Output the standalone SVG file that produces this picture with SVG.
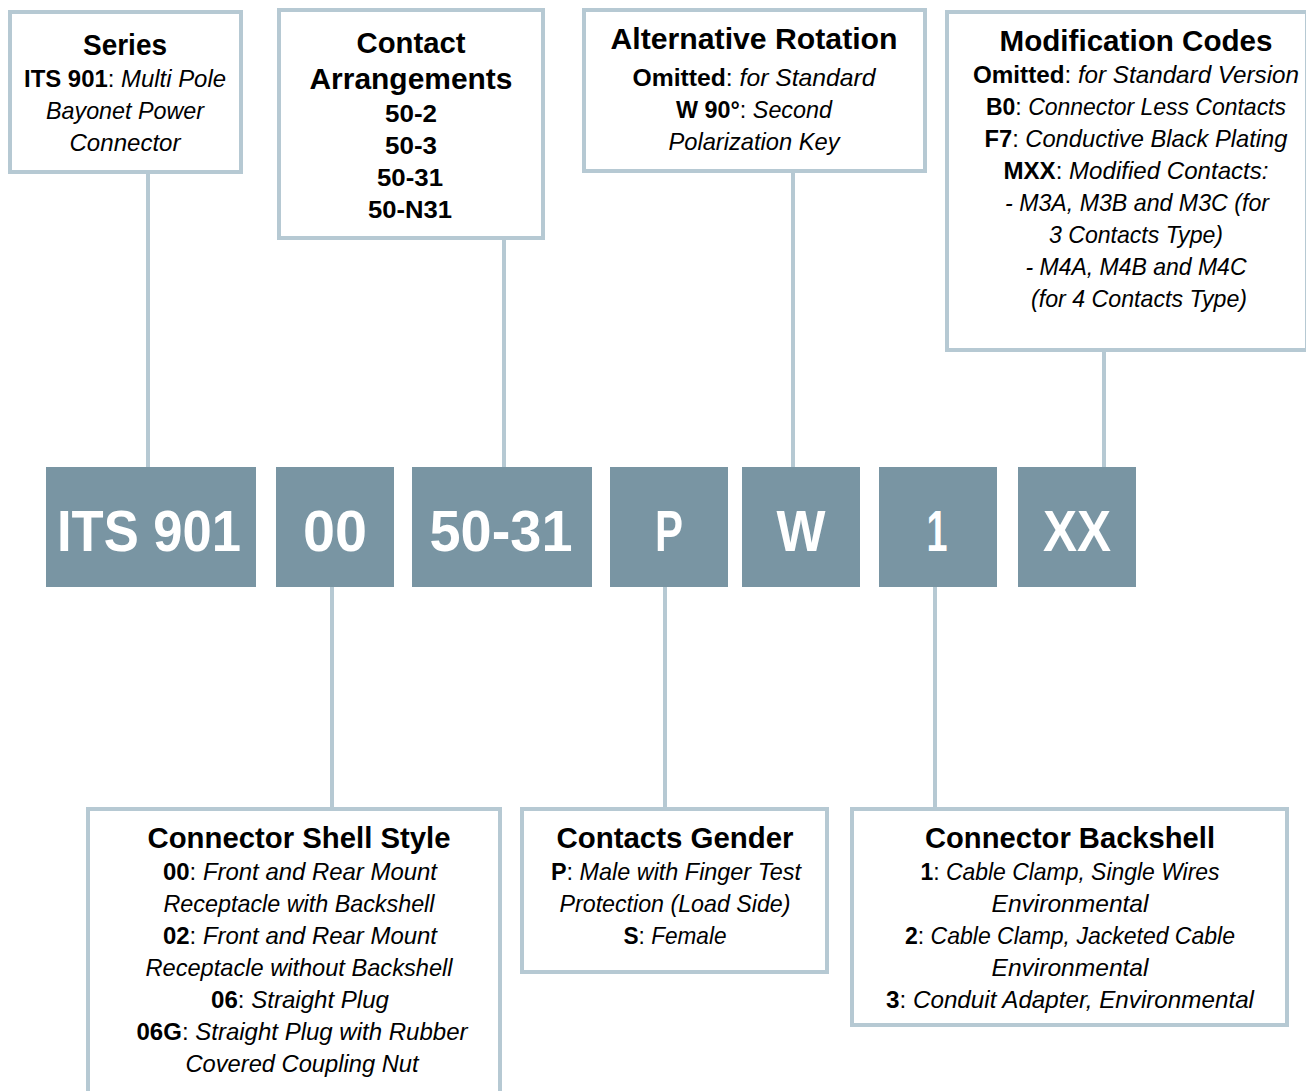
<svg xmlns="http://www.w3.org/2000/svg" width="1306" height="1091" viewBox="0 0 1306 1091">
<style>
.box{fill:#ffffff;stroke:#b6c9d3;stroke-width:4}
.code{fill:#7995a3}
.conn{stroke:#b6c9d3;stroke-width:4;fill:none}
text{font-family:"Liberation Sans",Arial,sans-serif;text-anchor:middle;fill:#000}
.t{font-size:29px;font-weight:bold}
.b{font-size:24px}
.b .k{font-weight:bold;font-style:normal}
.i{font-style:italic}
.c{font-size:57px;font-weight:bold;fill:#ffffff}
</style>
<rect width="1306" height="1091" fill="#ffffff"/>
<g id="connectors">
<line class="conn" x1="148" y1="172" x2="148" y2="467"/>
<line class="conn" x1="504" y1="238" x2="504" y2="467"/>
<line class="conn" x1="793" y1="171" x2="793" y2="467"/>
<line class="conn" x1="1104" y1="350" x2="1104" y2="467"/>
<line class="conn" x1="332" y1="587" x2="332" y2="809"/>
<line class="conn" x1="665" y1="587" x2="665" y2="809"/>
<line class="conn" x1="935" y1="587" x2="935" y2="809"/>
</g>
<g id="series">
<rect class="box" x="10" y="12" width="231" height="160"/>
<text class="t" x="125" y="55" textLength="84" lengthAdjust="spacingAndGlyphs">Series</text>
<text class="b" x="125" y="87" textLength="202" lengthAdjust="spacingAndGlyphs"><tspan class="k">ITS 901</tspan>: <tspan class="i">Multi Pole</tspan></text>
<text class="b i" x="125" y="119" textLength="158" lengthAdjust="spacingAndGlyphs">Bayonet Power</text>
<text class="b i" x="125" y="151" textLength="111" lengthAdjust="spacingAndGlyphs">Connector</text>
</g>
<g id="contact-arrangements">
<rect class="box" x="279" y="10" width="264" height="228"/>
<text class="t" x="411" y="53" textLength="109" lengthAdjust="spacingAndGlyphs">Contact</text>
<text class="t" x="411" y="89" textLength="203" lengthAdjust="spacingAndGlyphs">Arrangements</text>
<text class="b k" x="411" y="122" font-weight="bold" textLength="52" lengthAdjust="spacingAndGlyphs">50-2</text>
<text class="b k" x="411" y="154" font-weight="bold" textLength="52" lengthAdjust="spacingAndGlyphs">50-3</text>
<text class="b k" x="410" y="186" font-weight="bold" textLength="66" lengthAdjust="spacingAndGlyphs">50-31</text>
<text class="b k" x="410" y="218" font-weight="bold" textLength="84" lengthAdjust="spacingAndGlyphs">50-N31</text>
</g>
<g id="alternative-rotation">
<rect class="box" x="584" y="10" width="341" height="161"/>
<text class="t" x="754" y="49" textLength="287" lengthAdjust="spacingAndGlyphs">Alternative Rotation</text>
<text class="b" x="754" y="86" textLength="243" lengthAdjust="spacingAndGlyphs"><tspan class="k">Omitted</tspan>: <tspan class="i">for Standard</tspan></text>
<text class="b" x="754" y="118" textLength="156" lengthAdjust="spacingAndGlyphs"><tspan class="k">W 90°</tspan>: <tspan class="i">Second</tspan></text>
<text class="b i" x="754" y="150" textLength="171" lengthAdjust="spacingAndGlyphs">Polarization Key</text>
</g>
<g id="modification-codes">
<rect class="box" x="947" y="12" width="360" height="338"/>
<text class="t" x="1136" y="51" textLength="273" lengthAdjust="spacingAndGlyphs">Modification Codes</text>
<text class="b" x="1136" y="83" textLength="326" lengthAdjust="spacingAndGlyphs"><tspan class="k">Omitted</tspan>: <tspan class="i">for Standard Version</tspan></text>
<text class="b" x="1136" y="115" textLength="300" lengthAdjust="spacingAndGlyphs"><tspan class="k">B0</tspan>: <tspan class="i">Connector Less Contacts</tspan></text>
<text class="b" x="1136" y="147" textLength="303" lengthAdjust="spacingAndGlyphs"><tspan class="k">F7</tspan>: <tspan class="i">Conductive Black Plating</tspan></text>
<text class="b" x="1136" y="179" textLength="265" lengthAdjust="spacingAndGlyphs"><tspan class="k">MXX</tspan>: <tspan class="i">Modified Contacts:</tspan></text>
<text class="b i" x="1137" y="211" textLength="264" lengthAdjust="spacingAndGlyphs">- M3A, M3B and M3C (for</text>
<text class="b i" x="1136" y="243" textLength="174" lengthAdjust="spacingAndGlyphs">3 Contacts Type)</text>
<text class="b i" x="1136" y="275" textLength="221" lengthAdjust="spacingAndGlyphs">- M4A, M4B and M4C</text>
<text class="b i" x="1139" y="307" textLength="216" lengthAdjust="spacingAndGlyphs">(for 4 Contacts Type)</text>
</g>
<g id="code-its901">
<rect class="code" x="46" y="467" width="210" height="120"/>
<text class="c" x="149" y="551" textLength="184" lengthAdjust="spacingAndGlyphs">ITS 901</text>
</g>
<g id="code-00">
<rect class="code" x="276" y="467" width="118" height="120"/>
<text class="c" x="335" y="551" textLength="64" lengthAdjust="spacingAndGlyphs">00</text>
</g>
<g id="code-50-31">
<rect class="code" x="412" y="467" width="180" height="120"/>
<text class="c" x="501" y="551" textLength="143" lengthAdjust="spacingAndGlyphs">50-31</text>
</g>
<g id="code-p">
<rect class="code" x="610" y="467" width="118" height="120"/>
<text class="c" x="669" y="551" textLength="28" lengthAdjust="spacingAndGlyphs">P</text>
</g>
<g id="code-w">
<rect class="code" x="742" y="467" width="118" height="120"/>
<text class="c" x="801" y="551" textLength="49" lengthAdjust="spacingAndGlyphs">W</text>
</g>
<g id="code-1">
<rect class="code" x="879" y="467" width="118" height="120"/>
<text class="c" x="937" y="551" textLength="21" lengthAdjust="spacingAndGlyphs">1</text>
</g>
<g id="code-xx">
<rect class="code" x="1018" y="467" width="118" height="120"/>
<text class="c" x="1077" y="551" textLength="68" lengthAdjust="spacingAndGlyphs">XX</text>
</g>
<g id="connector-shell-style">
<rect class="box" x="88" y="809" width="412" height="300"/>
<text class="t" x="299" y="848" textLength="303" lengthAdjust="spacingAndGlyphs">Connector Shell Style</text>
<text class="b" x="300" y="880" textLength="274" lengthAdjust="spacingAndGlyphs"><tspan class="k">00</tspan>: <tspan class="i">Front and Rear Mount</tspan></text>
<text class="b i" x="299" y="912" textLength="271" lengthAdjust="spacingAndGlyphs">Receptacle with Backshell</text>
<text class="b" x="300" y="944" textLength="274" lengthAdjust="spacingAndGlyphs"><tspan class="k">02</tspan>: <tspan class="i">Front and Rear Mount</tspan></text>
<text class="b i" x="299" y="976" textLength="307" lengthAdjust="spacingAndGlyphs">Receptacle without Backshell</text>
<text class="b" x="300" y="1008" textLength="178" lengthAdjust="spacingAndGlyphs"><tspan class="k">06</tspan>: <tspan class="i">Straight Plug</tspan></text>
<text class="b" x="302" y="1040" textLength="331" lengthAdjust="spacingAndGlyphs"><tspan class="k">06G</tspan>: <tspan class="i">Straight Plug with Rubber</tspan></text>
<text class="b i" x="302" y="1072" textLength="233" lengthAdjust="spacingAndGlyphs">Covered Coupling Nut</text>
</g>
<g id="contacts-gender">
<rect class="box" x="522" y="809" width="305" height="163"/>
<text class="t" x="675" y="848" textLength="237" lengthAdjust="spacingAndGlyphs">Contacts Gender</text>
<text class="b" x="676" y="880" textLength="250" lengthAdjust="spacingAndGlyphs"><tspan class="k">P</tspan>: <tspan class="i">Male with Finger Test</tspan></text>
<text class="b i" x="675" y="912" textLength="231" lengthAdjust="spacingAndGlyphs">Protection (Load Side)</text>
<text class="b" x="675" y="944" textLength="103" lengthAdjust="spacingAndGlyphs"><tspan class="k">S</tspan>: <tspan class="i">Female</tspan></text>
</g>
<g id="connector-backshell">
<rect class="box" x="852" y="809" width="435" height="216"/>
<text class="t" x="1070" y="848" textLength="290" lengthAdjust="spacingAndGlyphs">Connector Backshell</text>
<text class="b" x="1070" y="880" textLength="299" lengthAdjust="spacingAndGlyphs"><tspan class="k">1</tspan>: <tspan class="i">Cable Clamp, Single Wires</tspan></text>
<text class="b i" x="1070" y="912" textLength="157" lengthAdjust="spacingAndGlyphs">Environmental</text>
<text class="b" x="1070" y="944" textLength="330" lengthAdjust="spacingAndGlyphs"><tspan class="k">2</tspan>: <tspan class="i">Cable Clamp, Jacketed Cable</tspan></text>
<text class="b i" x="1070" y="976" textLength="157" lengthAdjust="spacingAndGlyphs">Environmental</text>
<text class="b" x="1070" y="1008" textLength="368" lengthAdjust="spacingAndGlyphs"><tspan class="k">3</tspan>: <tspan class="i">Conduit Adapter, Environmental</tspan></text>
</g>
</svg>
